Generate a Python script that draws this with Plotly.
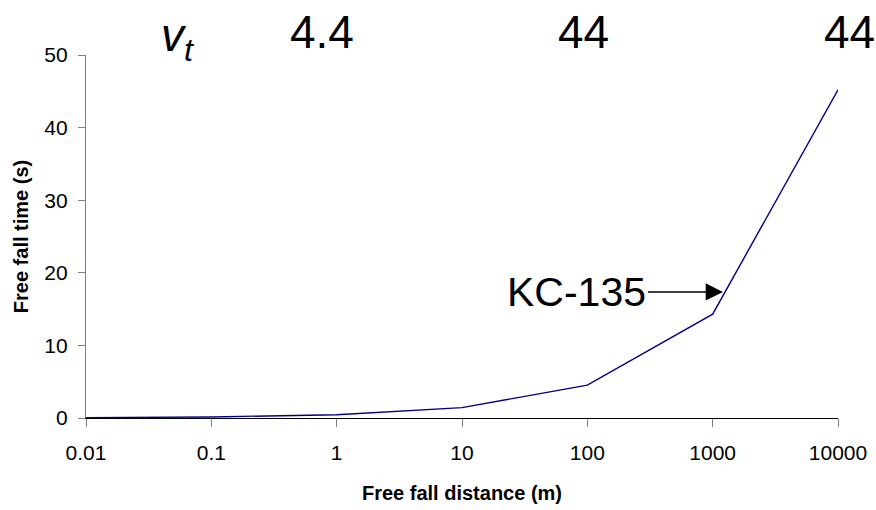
import math
import plotly.graph_objects as go

distance_m = [0.01, 0.1, 1, 10, 100, 1000, 10000]
fall_time_s = [0.045, 0.143, 0.452, 1.43, 4.52, 14.3, 45.2]
x_tick_vals = [0.01, 0.1, 1, 10, 100, 1000, 10000]
x_tick_text = ["0.01", "0.1", "1", "10", "100", "1000", "10000"]
y_tick_vals = [0, 10, 20, 30, 40, 50]
vt_labels = ["4.4", "44", "44"]
kc_arrow_x = 1208
kc_arrow_y = 17.36

FONT = "Liberation Sans, Arial, sans-serif"

L, R, T, B = 86, 38, 55, 92
PW, PH = 876 - L - R, 510 - T - B

fig = go.Figure()
fig.add_trace(go.Scatter(x=distance_m, y=fall_time_s, mode="lines",
                         line=dict(color="#000080", width=1.4),
                         showlegend=False, hoverinfo="skip"))

fig.update_layout(
    width=876, height=510,
    margin=dict(l=L, r=R, t=T, b=B),
    paper_bgcolor="white", plot_bgcolor="white",
    font=dict(family=FONT, color="black"),
    xaxis=dict(type="log", range=[-2, 4], tickvals=x_tick_vals, ticktext=x_tick_text,
               showgrid=False, zeroline=False, showline=True, linecolor="black", linewidth=1.2,
               ticks="outside", ticklen=8, tickcolor="#808080", tickwidth=1.2,
               tickfont=dict(size=21, family=FONT), ticklabelstandoff=8, automargin=False,
               title=dict(text="<b>Free fall distance (m)</b>", font=dict(size=20, family=FONT),
                          standoff=22)),
    yaxis=dict(range=[0, 50], tickvals=y_tick_vals,
               showgrid=False, zeroline=False, showline=True, linecolor="#808080", linewidth=1.2,
               ticks="outside", ticklen=7, tickcolor="#808080", tickwidth=1.2,
               tickfont=dict(size=21, family=FONT), ticklabelstandoff=6, automargin=False,
               title=dict(text="<b>Free fall time (s)</b>", font=dict(size=20, family=FONT),
                          standoff=10)),
)

# v_t label
fig.add_annotation(xref="paper", yref="paper", x=(178 - L) / PW, y=(418 - 38) / PH,
                   text="<i>v<sub>t</sub></i>", showarrow=False,
                   font=dict(size=46, family=FONT, color="black"),
                   xanchor="center", yanchor="middle")

for px, lab in zip([322, 583, 849], vt_labels):
    fig.add_annotation(xref="paper", yref="paper", x=(px - L) / PW, y=(418 - 32) / PH,
                       text=lab, showarrow=False,
                       font=dict(size=46, family=FONT, color="black"),
                       xanchor="center", yanchor="middle")

# KC-135 label with arrow (log axis: annotation x in log10 units)
fig.add_annotation(x=math.log10(kc_arrow_x), xref="x", y=kc_arrow_y, yref="y", text="KC-135",
                   showarrow=True, ax=-146, ay=0, arrowhead=2, arrowsize=2.3,
                   arrowwidth=1.5, arrowcolor="black",
                   font=dict(size=41, family=FONT, color="black"))

fig.write_html("out.html")
